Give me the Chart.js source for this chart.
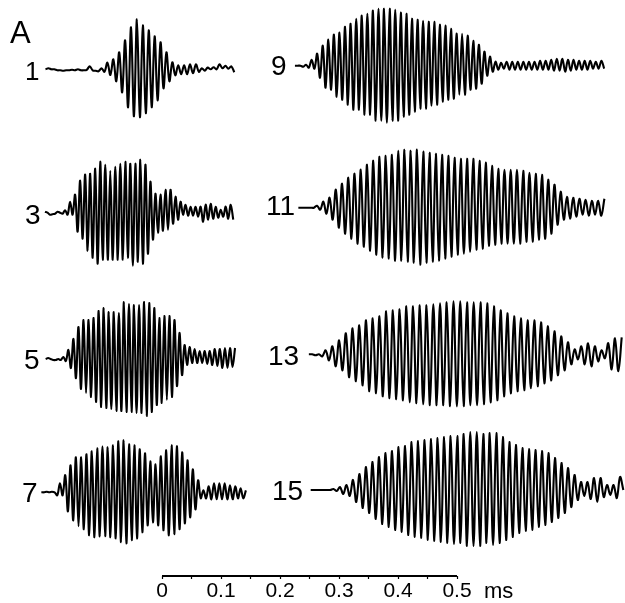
<!DOCTYPE html>
<html>
<head>
<meta charset="utf-8">
<style>
  html, body { margin: 0; padding: 0; background: #fff; }
  canvas { display: block; }
</style>
<script src="https://cdn.jsdelivr.net/npm/chart.js@4"></script>
</head>
<body>
<canvas id="chart" width="625" height="603"></canvas>
<script>
// peak / trough readings, alternating, arbitrary units
const trace1 = [0,1,0,0,-1,-1,-1.5,-1,-1,-.5,-1,0,-1,-1,-.5,3,-1,-1.5,-2,1,-2.5,6.7,-5.7,10,-12,17,-23,29,-38,42,-47,50,-48,44,-44,39,-38,33,-31,27,-19,17,-12,7,-6,4,-5,4,-5,5,-4,5,-2.5,1,-1.3,1.7,0,2,0,5,1,3.5,.5,3,-3]
const trace3 = [0,-1,-3,-2.5,-2,0,-1,-2,1.5,-3,10,-3,17,-20,31,-27,37,-39,38,-46,43,-52,50,-48,47,-48,41,-48,45,-48,48,-48,50,-46,48,-54,48,-50,52,-52,47,-42,30,-28,18,-21,17,-19,22,-18,22,-12,15,-8,10,-3,7,-4,5,-4,5,-5,5,-10,7,-8,8,-7,5,-6,2,-5,5,-7,7,-8]
const trace5 = [0,1,0,-1,-1,0,-1,2,-2,9,-9,20,-19,32,-30,39,-34,39,-38,41,-43,48,-48,51,-49,47,-50,47,-52,46,-52,57,-53,55,-53,54,-54,54,-54,57,-57,56,-53,51,-46,41,-44,43,-41,43,-38,39,-27,26,-16,14,-6,12,-4,10,-4,8,-4,8,-5,8,-6,10,-7,10,-9,11,-9,11,-8,11]
const trace7 = [0,0,.5,0,.5,0,-3,9,-3,17,-19,27,-28,35,-34,35,-37,38,-43,41,-45,44,-44,46,-44,45,-45,47,-46,51,-50,52,-51,48,-48,47,-46,43,-40,39,-33,31,-30,28,-33,36,-38,42,-43,47,-42,46,-37,40,-31,32,-25,23,-17,12,-6,2,-6,6,-7,9,-7,9,-7,9,-7,7,-7,6,-6,4,-6,2]
const trace9 = [0,0,0,-1,1,-2,6,-3,12,-12,20,-22,26,-24,31,-31,33,-34,39,-39,42,-44,47,-44,50,-49,52,-49,55,-55,57,-55,57,-57,57,-55,56,-55,53,-51,52,-49,47,-46,46,-43,45,-43,44,-40,44,-39,41,-36,40,-34,37,-33,32,-29,32,-29,30,-24,25,-23,21,-18,14,-10,9,-6,4,-4,3,-3,4,-4,4,-4,4,-4,4,-4,4,-4,4,-4,5,-4,5,-4,6,-5,7,-5,7,-6,6,-5,6,-4,5,-4,5,-4,5,-3,4,-3,5,-3]
const trace11 = [0,0,0,0,0,0,2,-2,6,-6,10,-12,18,-20,24,-26,30,-31,34,-36,38,-39,43,-43,47,-47,51,-50,52,-51,53,-53,57,-53,58,-54,57,-55,58,-57,56,-55,55,-54,54,-53,53,-51,52,-49,50,-47,49,-46,49,-44,49,-42,47,-41,45,-38,42,-37,39,-36,38,-36,38,-36,38,-36,37,-34,35,-34,34,-32,33,-31,28,-26,23,-17,16,-12,11,-11,10,-9,9,-7,8,-8,7,-7,7,-8,9]
const trace13 = [0,0,-1,0,-2,4,-6,8,-12,14,-16,21,-23,26,-27,29,-31,34,-37,36,-39,38,-42,43,-44,44,-45,45,-46,48,-48,48,-49,49,-50,49,-51,50,-51,51,-51,52,-52,53,-52,53,-52,52,-51,52,-51,52,-50,51,-48,48,-46,44,-42,41,-39,38,-37,36,-36,34,-34,34,-32,32,-29,28,-26,23,-21,18,-16,12,-10,5,-5,8,-10,11,-12,8,-7,4,-4,11,-15,16,-17,17]
const trace15 = [0,0,0,0,0,0,0,1,-1,3,-4,5,-6,10,-12,16,-18,23,-23,28,-29,33,-34,37,-37,39,-40,43,-42,44,-45,48,-47,49,-48,50,-50,51,-51,52,-52,53,-53,54,-54,54,-53,56,-56,58,-56,58,-56,56,-53,57,-55,57,-53,53,-50,48,-47,45,-43,42,-41,41,-40,40,-37,39,-35,37,-32,32,-28,27,-23,22,-17,15,-10,8,-6,8,-9,12,-12,12,-7,5,-5,5,-8,13,0]

const traceNames = ['1', '3', '5', '7', '9', '11', '13', '15']
const traceValues = [trace1, trace3, trace5, trace7, trace9, trace11, trace13, trace15]
const traceStart = [-0.1975, -0.1983, -0.1972, -0.2045, 0.2253, 0.2311, 0.2489, 0.2520]  // ms
const traceStep = [0.005, 0.004254, 0.00428, 0.004503, 0.004722, 0.005293, 0.005702, 0.00552]  // ms between readings
const traceOffset = [506.7, 364.3, 217, 83.7, 510.3, 368.3, 221.7, 86]

const barRange = [0, 0.5]
const tickValues = [0, 0.05, 0.1, 0.15, 0.2, 0.25, 0.3, 0.35, 0.4, 0.45, 0.5]
const tickLabels = ['0', '', '0.1', '', '0.2', '', '0.3', '', '0.4', '', '0.5']

const FONT = '"Liberation Sans", Arial, sans-serif'

const datasets = traceValues.map((vals, i) => ({
  label: traceNames[i],
  data: vals.map((v, k) => ({ x: traceStart[i] + k * traceStep[i], y: traceOffset[i] + v })),
  borderColor: '#000',
  borderWidth: 2.1,
  tension: 0.35,
  pointRadius: 0
}))

datasets.push({
  label: 'scale',
  data: barRange.map(x => ({ x, y: 0 })),
  borderColor: '#000',
  borderWidth: 2,
  pointRadius: 0,
  clip: false
})

// trace numbers, panel letter and the unit are plain text on top
const textLabels = [
  { text: 'A', x: 10, y: 34, size: 31 },
  { text: '1', x: 25, y: 73, size: 26 },
  { text: '3', x: 25, y: 216, size: 28 },
  { text: '5', x: 24, y: 361, size: 28 },
  { text: '7', x: 22, y: 494, size: 28 },
  { text: '9', x: 271, y: 67, size: 28 },
  { text: '11', x: 266, y: 207, size: 28 },
  { text: '13', x: 268, y: 357, size: 28 },
  { text: '15', x: 272, y: 492, size: 28 },
  { text: 'ms', x: 484, y: 592, size: 22 }
]

const textPlugin = {
  id: 'textLabels',
  afterDraw(chart) {
    const ctx = chart.ctx
    ctx.save()
    ctx.fillStyle = '#000'
    ctx.textAlign = 'left'
    ctx.textBaseline = 'middle'
    for (const t of textLabels) {
      ctx.font = t.size + 'px ' + FONT
      ctx.fillText(t.text, t.x, t.y)
    }
    ctx.restore()
  }
}

new Chart(document.getElementById('chart'), {
  type: 'line',
  data: { datasets },
  plugins: [textPlugin],
  options: {
    responsive: false,
    animation: false,
    layout: { padding: 0 },
    plugins: { legend: { display: false }, tooltip: { enabled: false } },
    scales: {
      x: {
        type: 'linear',
        min: -162 / 590,
        max: 463 / 590,
        afterBuildTicks(scale) { scale.ticks = tickValues.map(value => ({ value })) },
        afterFit(scale) { scale.height = 27 },
        border: { display: false },
        grid: { drawOnChartArea: false, tickLength: 3, tickColor: '#000', tickWidth: 1.2 },
        ticks: {
          autoSkip: false,
          maxRotation: 0,
          padding: 0,
          color: '#000',
          font: { family: FONT, size: 21 },
          callback(value, index) { return tickLabels[index] }
        }
      },
      y: { display: false, min: 0, max: 576 }
    }
  }
})
</script>
</body>
</html>
